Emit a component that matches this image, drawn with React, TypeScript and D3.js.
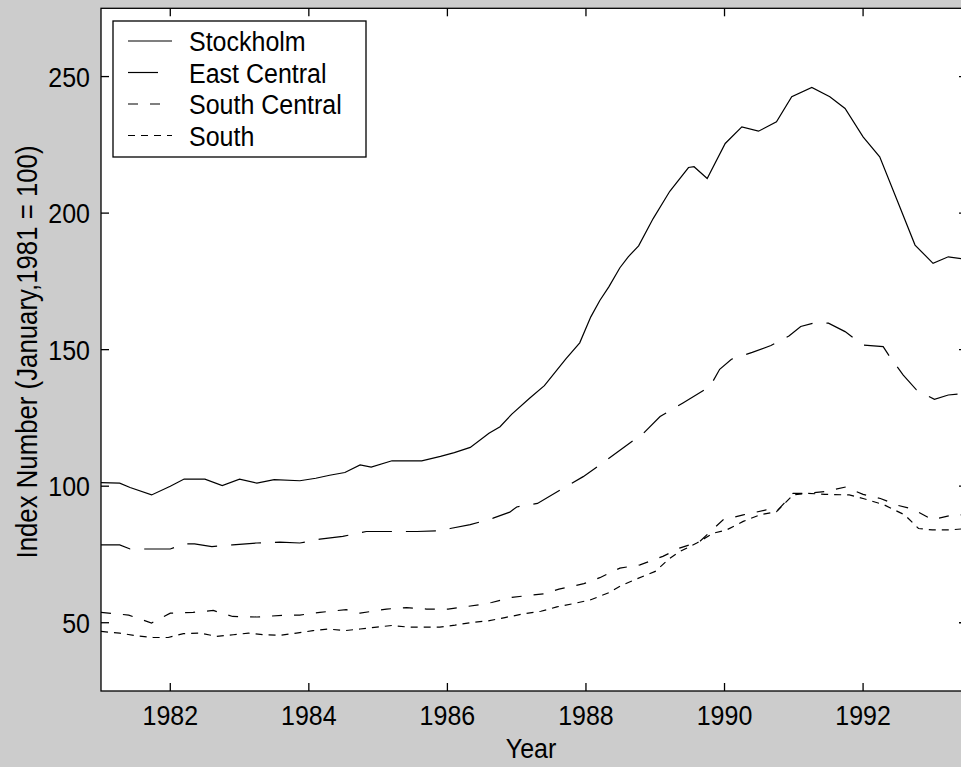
import React from "react";
import * as d3 from "d3";

// ---- data (year, index value) ----
const stockholm: [number, number][] = [
  [1981.0, 101.3], [1981.27, 101.1], [1981.42, 99.5], [1981.73, 96.8], [1982.0, 100.0],
  [1982.2, 102.6], [1982.5, 102.6], [1982.75, 100.2], [1983.0, 102.6], [1983.25, 101.1],
  [1983.5, 102.4], [1983.87, 102.0], [1984.1, 102.9], [1984.3, 104.0], [1984.52, 105.0],
  [1984.74, 107.8], [1984.9, 107.0], [1985.2, 109.3], [1985.63, 109.3], [1985.9, 110.9],
  [1986.1, 112.3], [1986.33, 114.2], [1986.6, 119.4], [1986.76, 121.8], [1986.93, 126.4],
  [1987.19, 132.3], [1987.4, 136.8], [1987.71, 146.6], [1987.91, 152.5], [1988.07, 162.0],
  [1988.2, 168.0], [1988.33, 173.0], [1988.49, 180.0], [1988.61, 184.0], [1988.76, 188.0],
  [1988.97, 198.0], [1989.21, 208.0], [1989.48, 216.7], [1989.56, 217.0], [1989.75, 212.7],
  [1990.01, 225.5], [1990.25, 231.6], [1990.49, 230.0], [1990.75, 233.4], [1990.97, 242.6],
  [1991.26, 246.0], [1991.52, 242.6], [1991.74, 238.3], [1992.0, 227.9], [1992.24, 220.6],
  [1992.49, 204.8], [1992.75, 188.3], [1993.01, 181.6], [1993.23, 184.0], [1993.5, 183.0],
];

const eastCentral: [number, number][] = [
  [1981.0, 78.5], [1981.27, 78.5], [1981.42, 77.0], [1981.7, 77.0], [1982.0, 77.0],
  [1982.21, 78.9], [1982.35, 78.9], [1982.6, 77.9], [1982.9, 78.5], [1983.25, 79.2],
  [1983.58, 79.5], [1983.87, 79.2], [1984.16, 80.6], [1984.49, 81.6], [1984.83, 83.4],
  [1985.12, 83.4], [1985.56, 83.4], [1985.9, 83.7], [1986.04, 84.5], [1986.33, 85.9],
  [1986.66, 88.3], [1986.9, 90.5], [1987.0, 92.4], [1987.3, 93.7], [1987.96, 103.5],
  [1988.2, 107.8], [1988.83, 119.4], [1989.07, 125.5], [1989.4, 130.5], [1989.79, 136.5],
  [1989.93, 142.8], [1990.1, 146.5], [1990.4, 149.0], [1990.67, 151.5], [1990.93, 155.0],
  [1991.1, 158.5], [1991.3, 159.8], [1991.5, 159.7], [1991.74, 156.6], [1992.0, 151.7],
  [1992.29, 151.1], [1992.39, 147.2], [1992.58, 140.7], [1992.77, 135.3], [1993.03, 131.8],
  [1993.23, 133.4], [1993.5, 134.0],
];

const southCentral: [number, number][] = [
  [1981.0, 53.8], [1981.4, 52.8], [1981.73, 49.9], [1982.0, 53.5], [1982.33, 53.8],
  [1982.62, 54.5], [1982.9, 52.3], [1983.25, 52.1], [1983.68, 52.8], [1983.87, 52.8],
  [1984.16, 53.8], [1984.54, 54.8], [1984.74, 53.5], [1985.12, 55.0], [1985.41, 55.5],
  [1985.7, 55.0], [1986.01, 55.0], [1986.47, 56.6], [1986.64, 57.4], [1986.93, 59.3],
  [1987.4, 60.6], [1987.61, 62.3], [1987.97, 64.3], [1988.2, 66.5], [1988.49, 70.0],
  [1988.78, 71.2], [1989.11, 74.3], [1989.35, 77.3], [1989.64, 79.7], [1989.98, 87.7],
  [1990.27, 89.5], [1990.6, 91.3], [1990.75, 90.7], [1990.99, 97.4], [1991.18, 97.4],
  [1991.45, 98.0], [1991.75, 99.7], [1992.0, 97.0], [1992.25, 95.5], [1992.5, 93.0],
  [1992.72, 91.6], [1993.0, 87.7], [1993.3, 89.5], [1993.5, 89.5],
];

const south: [number, number][] = [
  [1981.0, 46.8], [1981.27, 46.2], [1981.52, 45.2], [1981.75, 44.6], [1981.97, 44.6],
  [1982.19, 46.0], [1982.43, 46.2], [1982.67, 45.0], [1982.91, 45.6], [1983.13, 46.2],
  [1983.34, 45.6], [1983.58, 45.4], [1983.82, 46.2], [1984.06, 47.1], [1984.28, 47.7],
  [1984.52, 47.1], [1984.74, 47.7], [1984.98, 48.4], [1985.2, 49.0], [1985.43, 48.4],
  [1985.68, 48.4], [1985.89, 48.4], [1986.11, 49.1], [1986.35, 50.1], [1986.59, 50.7],
  [1986.83, 51.9], [1987.09, 53.2], [1987.35, 54.2], [1987.58, 55.8], [1987.84, 57.1],
  [1988.07, 58.4], [1988.33, 61.0], [1988.5, 63.5], [1988.7, 65.7], [1989.0, 68.8],
  [1989.2, 73.4], [1989.35, 76.0], [1989.6, 79.2], [1989.84, 82.8], [1990.03, 84.0],
  [1990.27, 87.1], [1990.51, 89.5], [1990.75, 90.7], [1990.99, 96.8], [1991.2, 97.4],
  [1991.45, 97.0], [1991.8, 96.8], [1992.0, 95.5], [1992.3, 93.2], [1992.6, 89.5],
  [1992.8, 84.5], [1993.0, 84.0], [1993.25, 84.0], [1993.5, 84.5],
];

const seriesNames = ["Stockholm", "East Central", "South Central", "South"];
const seriesData = [stockholm, eastCentral, southCentral, south];
const seriesDash = ["none", "30,14", "10,12", "7,6"];

const xTicks = [1982, 1984, 1986, 1988, 1990, 1992];
const yTicks = [50, 100, 150, 200, 250];
const xDomain = [1981, 1993.5];
const yDomain = [25, 275];

const FONT = "'Liberation Sans', Arial, sans-serif";
const FS = 25;
const SY = 1.12;

function T(props: { x: number; y: number; anchor?: string; children: React.ReactNode; fs?: number }) {
  return (
    <text transform={`translate(${props.x},${props.y}) scale(1,${SY})`} textAnchor={props.anchor || "start"}
      fontSize={props.fs || FS} fill="#000">{props.children}</text>
  );
}

export default function App() {
  const W = 961, H = 767;
  const left = 101, right = 967, top = 8.3, bottom = 691;
  const x = d3.scaleLinear().domain(xDomain).range([left, right]);
  const y = d3.scaleLinear().domain(yDomain).range([bottom, top]);
  const line = d3.line<[number, number]>().x(d => x(d[0])).y(d => y(d[1]));
  const tl = 8;

  return (
    <svg width={W} height={H} style={{ position: "absolute", left: 0, top: 0, display: "block" }}
      fontFamily={FONT}>
      <rect x={0} y={0} width={W} height={H} fill="#cccccc" />
      <defs>
        <clipPath id="plotclip">
          <rect x={left} y={top} width={right - left} height={bottom - top} />
        </clipPath>
      </defs>
      <rect x={left} y={top} width={right - left} height={bottom - top} fill="#ffffff" />
      <g clipPath="url(#plotclip)">
        {seriesData.map((s, i) => (
          <path key={i} d={line(s) || ""} fill="none" stroke="#000" strokeWidth={1.2}
            strokeDasharray={seriesDash[i] === "none" ? undefined : seriesDash[i]} />
        ))}
      </g>
      <rect x={left} y={top} width={right - left} height={bottom - top} fill="none" stroke="#000" strokeWidth={1.3} />
      {xTicks.map(t => (
        <g key={"x" + t}>
          <line x1={x(t)} x2={x(t)} y1={bottom} y2={bottom - tl} stroke="#000" strokeWidth={1.3} />
          <line x1={x(t)} x2={x(t)} y1={top} y2={top + tl} stroke="#000" strokeWidth={1.3} />
          <T x={x(t)} y={725} anchor="middle">{t}</T>
        </g>
      ))}
      {yTicks.map(t => (
        <g key={"y" + t}>
          <line x1={left} x2={left + tl} y1={y(t)} y2={y(t)} stroke="#000" strokeWidth={1.3} />
          <line x1={right} x2={right - tl} y1={y(t)} y2={y(t)} stroke="#000" strokeWidth={1.3} />
          <T x={90} y={y(t) + 10} anchor="end">{t}</T>
        </g>
      ))}
      <T x={531} y={758} anchor="middle">Year</T>
      <text transform={`translate(37, 352) rotate(-90) scale(1,${SY})`} textAnchor="middle"
        fontSize={25.8} fill="#000">Index Number (January,1981 = 100)</text>
      <rect x={113} y={21} width={253} height={136} fill="#ffffff" stroke="#000" strokeWidth={1.3} />
      {seriesNames.map((n, i) => {
        const cy = 41 + i * 31.5;
        return (
          <g key={n}>
            <line x1={128} x2={172} y1={cy} y2={cy} stroke="#000" strokeWidth={1.2}
              strokeDasharray={seriesDash[i] === "none" ? undefined : seriesDash[i]} />
            <T x={189} y={cy + 10}>{n}</T>
          </g>
        );
      })}
    </svg>
  );
}
